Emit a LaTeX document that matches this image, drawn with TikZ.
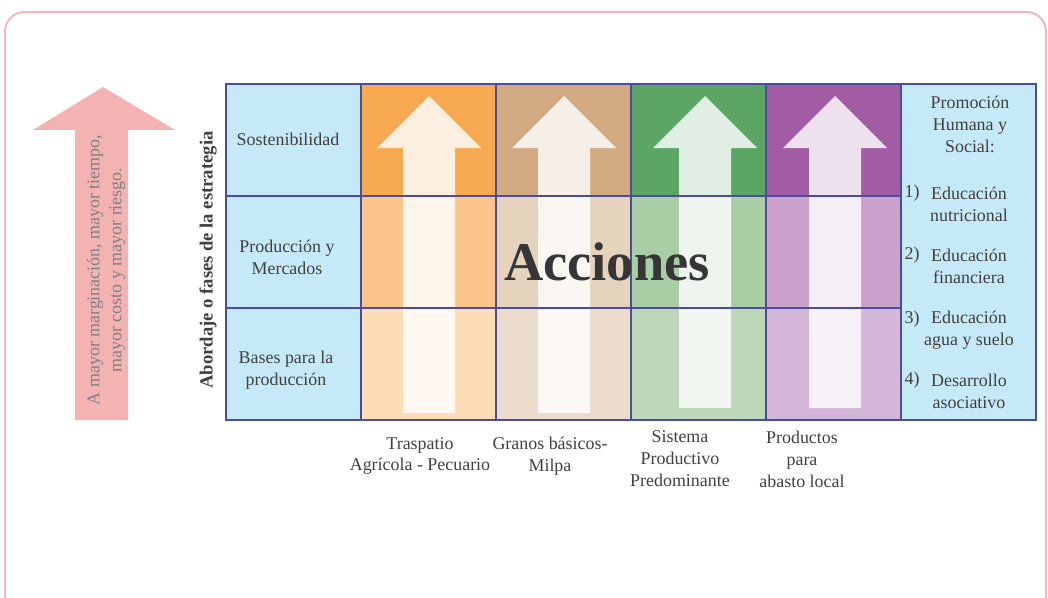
\documentclass[tikz,border=0pt]{standalone}
\usepackage{fontspec}
\setmainfont{Liberation Serif}

\definecolor{orA}{HTML}{F7A951}
\definecolor{orB}{HTML}{FAC48B}
\definecolor{orC}{HTML}{FDDDB6}
\definecolor{tnA}{HTML}{D2AB83}
\definecolor{tnB}{HTML}{E6D3BD}
\definecolor{tnC}{HTML}{EBDCCB}
\definecolor{grA}{HTML}{5BA565}
\definecolor{grB}{HTML}{A9CDA5}
\definecolor{grC}{HTML}{BCD7B8}
\definecolor{puA}{HTML}{A15CA4}
\definecolor{puB}{HTML}{C9A1CB}
\definecolor{puC}{HTML}{D4B6D9}
\definecolor{skyc}{HTML}{C6E9F8}
\definecolor{gridc}{HTML}{4C4C9E}
\definecolor{pinkc}{HTML}{F3B3B2}
\definecolor{framec}{HTML}{F0B8B8}
\definecolor{txtc}{HTML}{404040}

\begin{document}
\begin{tikzpicture}
  [x=0.02cm,y=-0.02cm,
   cell/.style={minimum width=2.7cm,minimum height=2.24cm,inner sep=0,outer sep=0},
   gridline/.style={draw=gridc,line width=0.8pt},
   txt/.style={font=\fontsize{10.2}{12.5}\selectfont,text=txtc,align=center,inner sep=0},
   upar/.style={fill=white,opacity=.82}]
  \useasboundingbox (0,0) rectangle (1048,598);
  \draw[framec,line width=1.1pt,rounded corners=11pt] (5,12) rectangle (1046,640);

  % pink arrow on the left
  \fill[pinkc] (75,420) -- (75,130) -- (33,130) -- (103,87) -- (175,130) -- (128,130) -- (128,420) -- cycle;
  \node[txt,rotate=90,text=gray] (marg) at (106,270) {A mayor marginación, mayor tiempo,\\mayor costo y mayor riesgo.};
  \node[txt,rotate=90,font=\bfseries\fontsize{10.6}{12.5}\selectfont] (fases) at (208,260) {Abordaje o fases de la estrategia};

  % cells
  \foreach \r/\y in {1/140,2/252,3/364}
    \node[cell,fill=skyc] (l\r) at (293.5,\y) {};
  \foreach \c/\x/\ca/\cb/\cc in {1/428.5/orA/orB/orC,2/563.5/tnA/tnB/tnC,3/698.5/grA/grB/grC,4/833.5/puA/puB/puC} {
    \node[cell,fill=\ca] (c\c-1) at (\x,140) {};
    \node[cell,fill=\cb] (c\c-2) at (\x,252) {};
    \node[cell,fill=\cc] (c\c-3) at (\x,364) {};
  }
  \node[cell,fill=skyc,minimum height=6.72cm] (prom) at (968.5,252) {};

  % white arrows
  \foreach \x/\b in {429/413,564/413,705/408,835/408}
    \fill[upar] (\x-26,\b) -- (\x-26,148) -- (\x-52,148) -- (\x,96) -- (\x+52,148) -- (\x+26,148) -- (\x+26,\b) -- cycle;

  % grid
  \foreach \r in {1,2,3} {
    \draw[gridline] (l\r.south west) rectangle (l\r.north east);
    \foreach \c in {1,...,4}
      \draw[gridline] (c\c-\r.south west) rectangle (c\c-\r.north east);
  }
  \draw[gridline] (prom.south west) rectangle (prom.north east);

  % row labels
  \node[txt] (sost) at (288,139) {Sostenibilidad};
  \node[txt] (prod) at (287,257) {Producción y\\Mercados};
  \node[txt] (base) at (286,370) {Bases para la\\producción};

  \node[font=\bfseries\fontsize{31}{34}\selectfont,text=txtc!85!black,inner sep=0] (acc) at (607,262) {Acciones};

  % column labels
  \node[txt] (b1) at (420,456) {Traspatio\\Agrícola - Pecuario};
  \node[txt] (b2) at (550,456) {Granos básicos-\\Milpa};
  \node[txt] (b3) at (680,459) {Sistema\\Productivo\\Predominante};
  \node[txt] (b4) at (802,459) {Productos\\para\\abasto local};

  % right column
  \node[txt] (ph) at (970,124) {Promoción\\Humana y\\Social:};
  \foreach \i/\y/\t in {1/204/{Educación\\nutricional},2/266/{Educación\\financiera},3/330/{Educación\\agua y suelo},4/391/{Desarrollo\\asociativo}} {
    \node[txt] (k\i) at (912,\y-11) {\i)};
    \node[txt] (e\i) at (969,\y) {\t};
  }
\end{tikzpicture}
\end{document}
